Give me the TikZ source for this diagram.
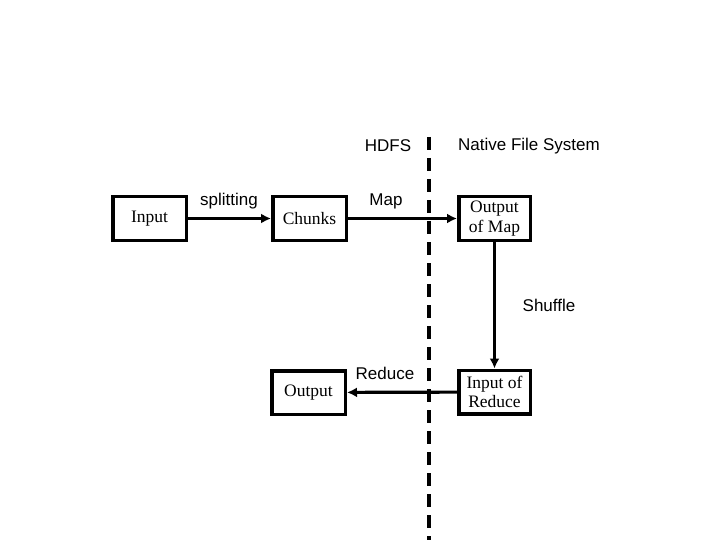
\documentclass[tikz,border=0pt]{standalone}
\usepackage{fontspec}
\setmainfont{Liberation Serif}
\setsansfont{Liberation Sans}
\usetikzlibrary{arrows.meta}
\begin{document}
\begin{tikzpicture}[x=1pt,y=-1pt,
  box/.style={draw,line width=3.5pt,minimum width=73.5pt,minimum height=43.5pt,inner sep=0pt,align=center,font=\fontsize{17.5}{19.5}\selectfont},
  lbl/.style={font=\sffamily\fontsize{17}{20}\selectfont,inner sep=0pt},
  conn/.style={line width=3.2pt,-{Latex[length=10pt,width=10pt]}},
  divider/.style={line width=4pt,dash pattern=on 13pt off 8pt}]
\useasboundingbox (0,0) rectangle (720,540);
\fill[white] (0,0) rectangle (720,540);
\node[box] (input) at (149.5,218.5) {Input};
\node[box] (chunks) at (309.5,218.5) {Chunks};
\node[box,minimum width=71.5pt] (oom) at (494.5,218.5) {Output\\of Map};
\node[box,minimum width=71.5pt] (ior) at (494.5,392) {Input of\\Reduce};
\node[box] (output) at (308.5,392.5) {Output};
\node[lbl] (hdfs) at (388,146) {HDFS};
\node[lbl] (nfs) at (529,146) {Native File System};
\node[lbl] (splitting) at (229,201) {splitting};
\node[lbl] (map) at (386,201) {Map};
\node[lbl] (shuffle) at (549,305) {Shuffle};
\node[lbl] (reduce) at (385,373) {Reduce};
\coordinate (dtop) at (429,137);
\coordinate (dbot) at (429,540);
\draw[divider] (dtop) -- (dbot);
\draw[conn] (input) -- (chunks);
\draw[conn] (chunks) -- (oom);
\draw[conn] (oom) -- (ior);
\draw[conn] (ior) -- (output);
\end{tikzpicture}
\end{document}
